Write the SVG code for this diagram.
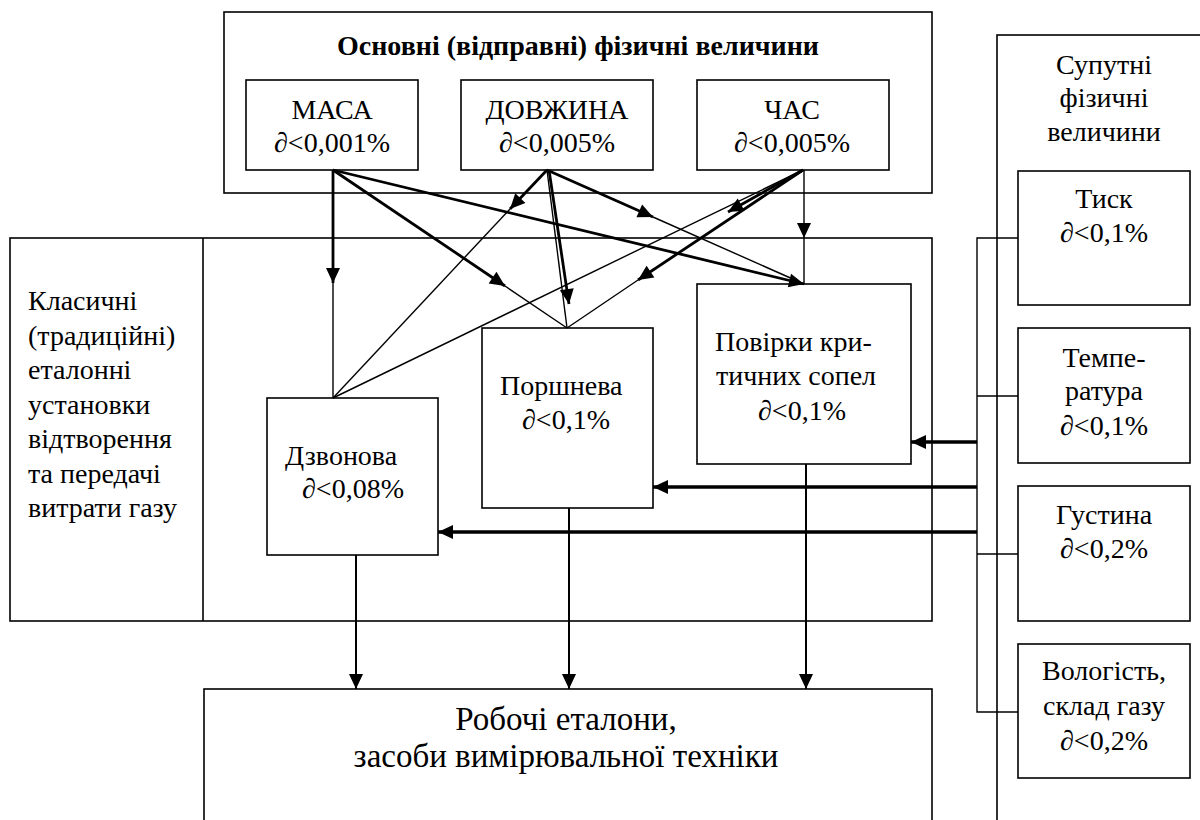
<svg xmlns="http://www.w3.org/2000/svg" width="1200" height="820" viewBox="0 0 1200 820">
<style>
  .box{fill:none;stroke:#000;stroke-width:1.6}
  .t{font-family:"Liberation Serif","Times New Roman",serif;font-size:28px;fill:#000}
  .c{text-anchor:middle}
  .b{font-weight:bold}
  .big{font-size:33px}
  .d{font-style:italic}
  .thick{stroke:#000;stroke-width:2.8;fill:none}
  .thin{stroke:#000;stroke-width:1.4;fill:none}
  .med{stroke:#000;stroke-width:2;fill:none}
  .hv{stroke:#000;stroke-width:3.6;fill:none}
</style>
<defs>
  <marker id="ah" markerUnits="userSpaceOnUse" markerWidth="16" markerHeight="14" refX="15" refY="7" orient="auto" overflow="visible">
    <path d="M0,0 L15,7 L0,14 z" fill="#000"/>
  </marker>
</defs>
<rect width="1200" height="820" fill="#fff"/>

<g id="base-group">
  <rect class="box" x="224" y="12" width="708" height="181"/>
  <text class="t c b" x="578" y="55">Основні (відправні) фізичні величини</text>
</g>
<g id="masa">
  <rect class="box" x="246" y="80" width="172" height="90"/>
  <text class="t c" x="332" y="119">МАСА</text>
  <text class="t c" x="332" y="152"><tspan class="d">∂</tspan>&lt;0,001%</text>
</g>
<g id="dovzhyna">
  <rect class="box" x="461" y="80" width="192" height="90"/>
  <text class="t c" x="557" y="119">ДОВЖИНА</text>
  <text class="t c" x="557" y="152"><tspan class="d">∂</tspan>&lt;0,005%</text>
</g>
<g id="chas">
  <rect class="box" x="697" y="80" width="192" height="90"/>
  <text class="t c" x="792" y="119">ЧАС</text>
  <text class="t c" x="792" y="152"><tspan class="d">∂</tspan>&lt;0,005%</text>
</g>

<g id="classic-group">
  <rect class="box" x="10" y="238" width="922" height="383"/>
  <line class="box" x1="203" y1="238" x2="203" y2="621"/>
  <text class="t" x="28" y="310">Класичні</text>
  <text class="t" x="28" y="345">(традиційні)</text>
  <text class="t" x="28" y="379">еталонні</text>
  <text class="t" x="28" y="414">установки</text>
  <text class="t" x="28" y="448">відтворення</text>
  <text class="t" x="28" y="483">та передачі</text>
  <text class="t" x="28" y="517">витрати газу</text>
</g>
<g id="dzvonova">
  <rect class="box" x="267" y="398" width="171" height="157"/>
  <text class="t" x="285" y="465">Дзвонова</text>
  <text class="t" x="302" y="498"><tspan class="d">∂</tspan>&lt;0,08%</text>
</g>
<g id="porshneva">
  <rect class="box" x="482" y="328" width="171" height="180"/>
  <text class="t" x="500" y="395">Поршнева</text>
  <text class="t" x="522" y="429"><tspan class="d">∂</tspan>&lt;0,1%</text>
</g>
<g id="povirky">
  <rect class="box" x="697" y="284" width="214" height="180"/>
  <text class="t" x="715" y="351">Повірки кри-</text>
  <text class="t" x="716" y="385">тичних сопел</text>
  <text class="t" x="758" y="420"><tspan class="d">∂</tspan>&lt;0,1%</text>
</g>

<g id="working">
  <rect class="box" x="204" y="689" width="728" height="150"/>
  <text class="t c big" x="566" y="730">Робочі еталони,</text>
  <text class="t c big" x="566" y="767">засоби вимірювальної техніки</text>
</g>

<g id="accompanying-group">
  <rect class="box" x="997" y="35" width="220" height="800"/>
  <text class="t c" x="1104" y="74">Супутні</text>
  <text class="t c" x="1104" y="107">фізичні</text>
  <text class="t c" x="1104" y="141">величини</text>
</g>
<g id="tysk">
  <rect class="box" x="1018" y="171" width="172" height="134"/>
  <text class="t c" x="1104" y="208">Тиск</text>
  <text class="t c" x="1104" y="242"><tspan class="d">∂</tspan>&lt;0,1%</text>
</g>
<g id="temperatura">
  <rect class="box" x="1018" y="328" width="172" height="135"/>
  <text class="t c" x="1104" y="367">Темпе-</text>
  <text class="t c" x="1104" y="400">ратура</text>
  <text class="t c" x="1104" y="435"><tspan class="d">∂</tspan>&lt;0,1%</text>
</g>
<g id="hustyna">
  <rect class="box" x="1018" y="486" width="172" height="135"/>
  <text class="t c" x="1104" y="524">Густина</text>
  <text class="t c" x="1104" y="558"><tspan class="d">∂</tspan>&lt;0,2%</text>
</g>
<g id="volohist">
  <rect class="box" x="1018" y="644" width="172" height="134"/>
  <text class="t c" x="1104" y="680">Вологість,</text>
  <text class="t c" x="1104" y="715">склад газу</text>
  <text class="t c" x="1104" y="750"><tspan class="d">∂</tspan>&lt;0,2%</text>
</g>

<g id="connectors">
  <!-- MASA -->
  <line class="thick" x1="333" y1="170" x2="333" y2="283" marker-end="url(#ah)"/>
  <line class="thin" x1="333" y1="283" x2="333" y2="398"/>
  <line class="thick" x1="333" y1="170" x2="505" y2="286" marker-end="url(#ah)"/>
  <line class="thin" x1="505" y1="286" x2="567" y2="328"/>
  <line class="thick" x1="333" y1="170" x2="804" y2="284" marker-end="url(#ah)"/>
  <!-- DOVZHYNA -->
  <line class="thick" x1="547" y1="170" x2="510" y2="209" marker-end="url(#ah)"/>
  <line class="thin" x1="510" y1="209" x2="333" y2="398"/>
  <line class="thin" x1="547" y1="170" x2="567" y2="328"/>
  <line class="thick" x1="549" y1="170" x2="569" y2="304" marker-end="url(#ah)"/>
  <line class="thick" x1="547" y1="170" x2="653" y2="217" marker-end="url(#ah)"/>
  <line class="thin" x1="653" y1="217" x2="804" y2="284"/>
  <!-- CHAS -->
  <line class="thin" x1="803" y1="170" x2="333" y2="398"/>
  <line class="thick" x1="803" y1="170" x2="728" y2="212" marker-end="url(#ah)"/>
  <line class="thick" x1="803" y1="170" x2="638" y2="280" marker-end="url(#ah)"/>
  <line class="thin" x1="638" y1="280" x2="567" y2="328"/>
  <line class="thin" x1="804" y1="170" x2="804" y2="238" marker-end="url(#ah)"/>
  <line class="thin" x1="804" y1="238" x2="804" y2="284"/>
  <!-- to working standards -->
  <line class="med" x1="356" y1="555" x2="356" y2="689" marker-end="url(#ah)"/>
  <line class="med" x1="569" y1="508" x2="569" y2="689" marker-end="url(#ah)"/>
  <line class="med" x1="806" y1="464" x2="806" y2="689" marker-end="url(#ah)"/>
  <!-- bus from accompanying quantities -->
  <polyline class="thin" points="1018,238 977,238 977,712 1018,712"/>
  <line class="thin" x1="977" y1="396" x2="1018" y2="396"/>
  <line class="thin" x1="977" y1="554" x2="1018" y2="554"/>
  <line class="hv" x1="977" y1="442" x2="911" y2="442" marker-end="url(#ah)"/>
  <line class="hv" x1="977" y1="487" x2="653" y2="487" marker-end="url(#ah)"/>
  <line class="hv" x1="977" y1="532" x2="438" y2="532" marker-end="url(#ah)"/>
</g>
</svg>
